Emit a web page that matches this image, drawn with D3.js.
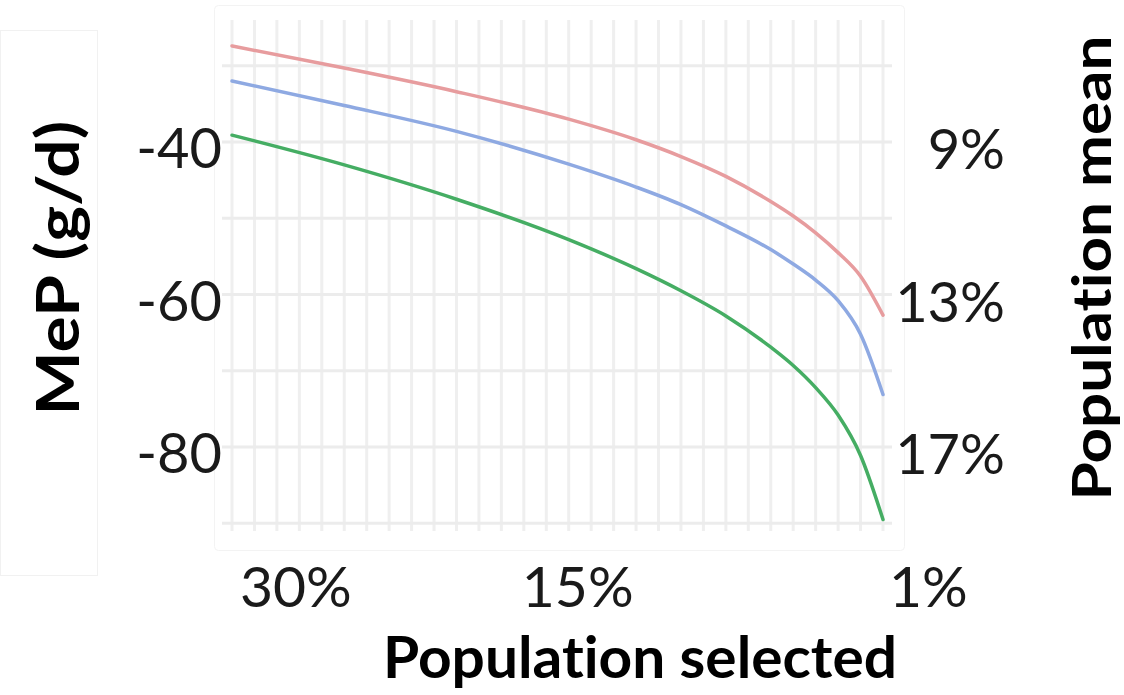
<!DOCTYPE html>
<html>
<head>
<meta charset="utf-8">
<script src="https://cdn.jsdelivr.net/npm/d3@7"></script>
<style>
  html, body { margin: 0; padding: 0; background: #ffffff; }
  svg { display: block; }
  text { font-variant-ligatures: none; font-feature-settings: "liga" 0, "clig" 0; }
</style>
</head>
<body>
<svg id="chart" width="1124" height="695"></svg>
<script>
// ---- data ----
const percentSelected = [30, 25, 20, 15, 12, 10, 8, 6, 5, 4, 3, 2, 1];
const seriesRed   = [-27.4, -30.3, -33.4, -37.0, -39.7, -41.9, -44.5, -47.8, -49.7, -51.9, -54.5, -57.6, -62.7];
const seriesBlue  = [-32.0, -35.2, -38.6, -42.9, -45.9, -48.2, -51.0, -54.1, -56.0, -58.1, -60.8, -65.2, -73.1];
const seriesGreen = [-39.1, -43.0, -47.5, -52.8, -56.6, -59.5, -62.8, -66.9, -69.3, -72.2, -75.8, -81.1, -89.5];
const seriesColors = ["#e79c9e", "#8ea9e2", "#45ad63"];

const gridPercents = d3.range(1, 31);            // one vertical grid line per percent
const gridValues = [-90, -80, -70, -60, -50, -40, -30];
const leftTickValues = [-40, -60, -80];
const leftTickLabels = ["-40", "-60", "-80"];
const rightTickLabels = ["9%", "13%", "17%"];
const xTickValues = [30, 15, 1];
const xTickLabels = ["30%", "15%", "1%"];

// ---- layout ----
const svg = d3.select("#chart");
const x = d3.scaleLinear().domain([30, 1]).range([232, 883]);
const y = d3.scaleLinear().domain([-91, -24]).range([531, 20]);

// faint panel frames
svg.append("rect").attr("x", 0.5).attr("y", 30.5).attr("width", 97).attr("height", 545)
  .attr("fill", "none").attr("stroke", "#f1f1f1").attr("stroke-width", 1);
svg.append("rect").attr("x", 214.5).attr("y", 5.5).attr("width", 690).attr("height", 545).attr("rx", 4)
  .attr("fill", "none").attr("stroke", "#f3f3f3").attr("stroke-width", 1);

// grid
const grid = svg.append("g");
grid.selectAll("line.v").data(gridPercents).join("line").attr("class", "v")
  .attr("x1", d => x(d)).attr("x2", d => x(d))
  .attr("y1", y(-24)).attr("y2", y(-91))
  .attr("stroke", "#efefef").attr("stroke-width", 3);
grid.selectAll("line.h").data(gridValues).join("line").attr("class", "h")
  .attr("x1", 222).attr("x2", 892)
  .attr("y1", d => y(d)).attr("y2", d => y(d))
  .attr("stroke", "#ececec").attr("stroke-width", 3);

// lines
const allSeries = [seriesRed, seriesBlue, seriesGreen];
const line = d3.line()
  .x(d => x(d[0])).y(d => y(d[1]))
  .curve(d3.curveMonotoneX);
svg.append("g").selectAll("path").data(allSeries).join("path")
  .attr("d", s => line(percentSelected.map((p, i) => [p, s[i]])))
  .attr("fill", "none")
  .attr("stroke", (d, i) => seriesColors[i])
  .attr("stroke-width", 3.5)
  .attr("stroke-linecap", "round")
  .attr("stroke-linejoin", "round");

// text
const tickFont = "Lato, 'Open Sans', sans-serif";
const titleFont = "Lato, 'Open Sans', sans-serif";

// left tick labels
svg.append("g").selectAll("text").data(leftTickValues).join("text")
  .attr("x", 222).attr("y", d => y(d) + 26)
  .attr("text-anchor", "end")
  .attr("font-family", tickFont).attr("font-size", 56).attr("fill", "#1a1a1a")
  .text((d, i) => leftTickLabels[i]);

// right tick labels
svg.append("g").selectAll("text").data(leftTickValues).join("text")
  .attr("x", 1005).attr("y", d => y(d) + 27)
  .attr("text-anchor", "end")
  .attr("font-family", tickFont).attr("font-size", 56).attr("fill", "#1a1a1a")
  .text((d, i) => rightTickLabels[i]);

// bottom tick labels
const xAnchors = ["start", "middle", "start"];
const xShift = [8, 9, 6];
svg.append("g").selectAll("text").data(xTickValues).join("text")
  .attr("x", (d, i) => x(d) + xShift[i]).attr("y", 607)
  .attr("text-anchor", (d, i) => xAnchors[i])
  .attr("font-family", tickFont).attr("font-size", 57).attr("fill", "#1a1a1a")
  .text((d, i) => xTickLabels[i]);

// axis titles
svg.append("text")
  .attr("x", 640).attr("y", 678)
  .attr("text-anchor", "middle")
  .attr("font-family", titleFont).attr("font-weight", "bold").attr("font-size", 57)
  .attr("textLength", 514).attr("lengthAdjust", "spacingAndGlyphs")
  .attr("fill", "#000").text("Population selected");

svg.append("text")
  .attr("transform", "translate(79,268) rotate(-90)")
  .attr("text-anchor", "middle")
  .attr("font-family", titleFont).attr("font-weight", "bold").attr("font-size", 60)
  .attr("textLength", 295).attr("lengthAdjust", "spacingAndGlyphs")
  .attr("fill", "#000").text("MeP  (g/d)");

svg.append("text")
  .attr("transform", "translate(1111,268) rotate(-90)")
  .attr("text-anchor", "middle")
  .attr("font-family", titleFont).attr("font-weight", "bold").attr("font-size", 54)
  .attr("textLength", 465).attr("lengthAdjust", "spacingAndGlyphs")
  .attr("fill", "#000").text("Population mean");
</script>
</body>
</html>
